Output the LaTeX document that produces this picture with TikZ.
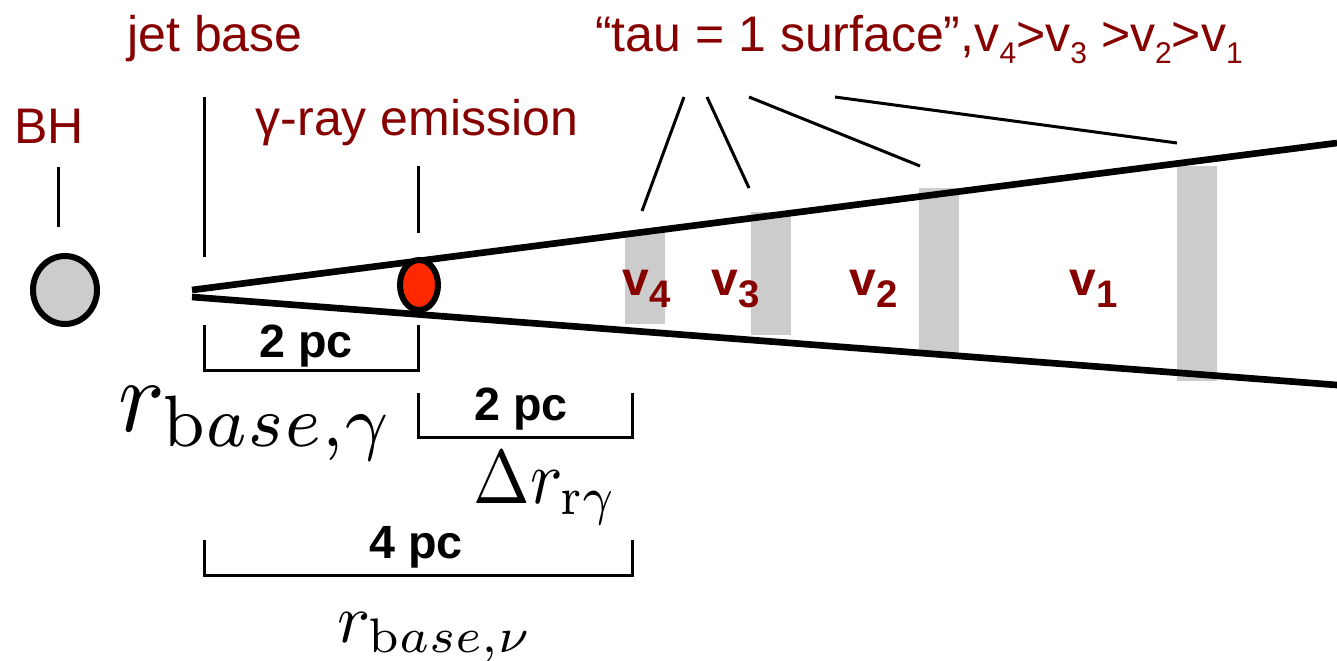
\documentclass[tikz,border=0pt]{standalone}
\usepackage{fontspec}
\newfontfamily\arialfont{Liberation Sans}
\usetikzlibrary{positioning}
\definecolor{labred}{RGB}{135,0,0}
\definecolor{bargray}{RGB}{204,204,204}
\definecolor{emitred}{RGB}{255,40,0}
% lowered subscript as in the figure
\newcommand{\lsub}[2][0.6]{\raisebox{-0.25em}{\scalebox{#1}{#2}}}
% large math symbol, set at 10pt and scaled up (x, y)
\newcommand{\bigsym}[3]{\scalebox{#1}[#2]{\normalsize$#3$}}

\tikzset{every picture/.style={line width=0.75pt}}
\tikzset{
  lbl/.style={text=labred, inner sep=0.75pt, font=\arialfont\fontsize{37.5}{44}\selectfont},
  vlbl/.style={text=labred, inner sep=0.75pt, font=\arialfont\bfseries\fontsize{36}{42}\selectfont},
  pclbl/.style={inner sep=0.75pt, font=\arialfont\bfseries\fontsize{35}{42}\selectfont},
  symlbl/.style={anchor=base west, inner sep=0pt},
  thinline/.style={line width=2.25pt},
  jetline/.style={line width=5pt},
  bar/.style={fill=bargray, draw=none},
}

\begin{document}
\begin{tikzpicture}[x=0.75pt,y=0.75pt,yscale=-1,xscale=1]
\useasboundingbox (0,0) rectangle (1337,660);

%Shape: Rectangles (tau = 1 slabs)
\fill[bar] (625,232) rectangle (665,324);
\fill[bar] (751,212) rectangle (791,335);
\fill[bar] (919,188) rectangle (959,355);
\fill[bar] (1177,166) rectangle (1217,381);

%Straight Lines (jet cone)
\coordinate (apexU) at (192,290);
\coordinate (apexL) at (192,297);
\coordinate (endU) at (1337,143);
\coordinate (endL) at (1337,385);
\draw[jetline] (apexU) -- (endU);
\draw[jetline] (apexL) -- (endL);

%Shape: Ellipse (black hole)
\draw[line width=4.5pt, fill=bargray] (65,290) ellipse [x radius=32, y radius=34];
%Shape: Ellipse (emission region)
\draw[line width=4.5pt, fill=emitred] (419,285) ellipse [x radius=19, y radius=25];

% Text Node
\node[lbl, anchor=base] (bh) at (49,143) {BH};
\node[lbl, anchor=base] (jetbase) at (215,51) {jet base};
\node[lbl, anchor=base] (gammaem) at (417,135) {γ-ray emission};
\node[lbl, anchor=base] (tausurf) at (919,51) {“tau = 1 surface”,v\lsub{4}>v\lsub{3} >v\lsub{2}>v\lsub{1}};

%Straight Lines (markers)
\coordinate (bhtop) at (58,167);
\coordinate (bhbot) at (58,227);
\coordinate (jbtop) at (204,97);
\coordinate (jbbot) at (204,257);
\coordinate (gmtop) at (418,166);
\coordinate (gmbot) at (418,233);
\draw[thinline] (bhtop) -- (bhbot);
\draw[thinline] (jbtop) -- (jbbot);
\draw[thinline] (gmtop) -- (gmbot);

%Straight Lines (pointers to slabs)
\coordinate (t4) at (684,97);
\coordinate (t3) at (707,97);
\coordinate (t2) at (749,97);
\coordinate (t1) at (835,97);
\coordinate (s4) at (642,211);
\coordinate (s3) at (749,188);
\coordinate (s2) at (920,166);
\coordinate (s1) at (1177,143);
\draw[thinline] (t4) -- (s4);
\draw[thinline] (t3) -- (s3);
\draw[thinline] (t2) -- (s2);
\draw[thinline] (t1) -- (s1);

% Text Node (frequencies)
\node[vlbl, anchor=base west] (nu4) at (621,295) {v\lsub[0.8]{4}};
\node[vlbl, anchor=base west] (nu3) at (710,295) {v\lsub[0.8]{3}};
\node[vlbl, anchor=base west] (nu2) at (848,295) {v\lsub[0.8]{2}};
\node[vlbl, anchor=base west] (nu1) at (1068,295) {v\lsub[0.8]{1}};

%Straight Lines (distance brackets)
\coordinate (b1a) at (204,325);
\coordinate (b1b) at (418,325);
\coordinate (b2a) at (418,393);
\coordinate (b2b) at (632,393);
\coordinate (b3a) at (204,540);
\coordinate (b3b) at (632,540);
\draw[thinline] (b1a) -- ++(0,45) -| (b1b);
\draw[thinline] (b2a) -- ++(0,44) -| (b2b);
\draw[thinline] (b3a) -- ++(0,35) -| (b3b);

% Text Node (distances)
\node[pclbl, anchor=base] (pc1) at (306,357) {2 pc};
\node[pclbl, anchor=base] (pc2) at (521,420) {2 pc};
\node[pclbl, anchor=base] (pc3) at (416,558) {4 pc};

% Text Node (symbols)
\node[symlbl] (rbg) at (118,431) {\bigsym{7.3}{7.8}{r_{\mathrm{b}ase,\gamma}}};
\node[symlbl] (drg) at (473,503) {\bigsym{5.1}{5.7}{\Delta r_{\mathrm{r}\gamma}}};
\node[symlbl] (rbn) at (337,642) {\bigsym{5.2}{5.2}{r_{\mathrm{b}ase,\nu}}};

\end{tikzpicture}
\end{document}
